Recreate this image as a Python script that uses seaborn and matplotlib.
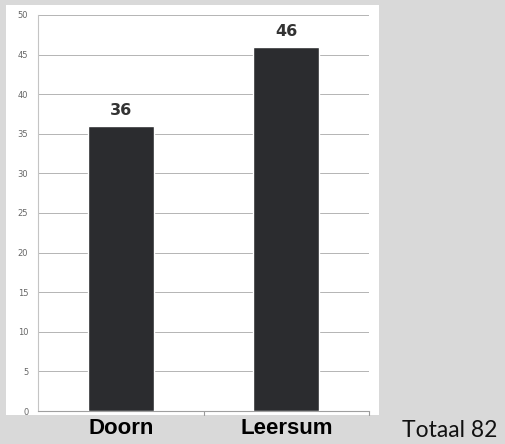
import matplotlib
matplotlib.use("Agg")
import matplotlib.pyplot as plt
import seaborn as sns
import pandas as pd
from matplotlib.patches import Rectangle

categories = ["Doorn", "Leersum"]
values = [36, 46]
total_label = "Totaal 82"
yticks = [0, 5, 10, 15, 20, 25, 30, 35, 40, 45, 50]

df = pd.DataFrame({"plaats": categories, "aantal": values})

sns.set_style("white")
fig = plt.figure(figsize=(5.05, 4.44), dpi=100)
fig.patch.set_facecolor("#d9d9d9")
fig.add_artist(Rectangle((6 / 505, 1 - 415 / 444), (379 - 6) / 505, (415 - 5) / 444,
                         transform=fig.transFigure, facecolor="white", edgecolor="none", zorder=0))

ax = fig.add_axes([38 / 505, 1 - 411 / 444, 331 / 505, (411 - 15) / 444])
ax.set_facecolor("none")
sns.barplot(data=df, x="plaats", y="aantal", color="#2b2c2f", width=0.4,
            saturation=1, ax=ax, zorder=3)

ax.set_ylim(0, 50)
ax.set_xlim(-0.5, 1.5)
ax.set_yticks(yticks)
ax.set_yticklabels([str(t) for t in yticks], fontsize=6, color="#666666")
ax.yaxis.grid(True, color="#b4b4b4", linewidth=0.7, zorder=0)
ax.tick_params(axis="y", length=3, color="#aaaaaa", pad=4)
ax.tick_params(axis="x", length=0)
ax.set_xticks([])
for x in [0.5, 1.5]:
    ax.plot([x, x], [0, -0.5], color="#999999", linewidth=0.8, clip_on=False)
for s in ["top", "right"]:
    ax.spines[s].set_visible(False)
ax.spines["left"].set_color("#c4c4c4")
ax.spines["bottom"].set_color("#a0a0a0")
ax.spines["bottom"].set_linewidth(0.8)
ax.set_xlabel("")
ax.set_ylabel("")

for i, v in enumerate(values):
    ax.text(i, v + 1.0, str(v), ha="center", va="bottom", fontsize=11.5,
            fontweight="bold", color="#333333", family="DejaVu Sans")
    ax.text(i, -0.9, categories[i], ha="center", va="top", fontsize=16,
            fontweight="bold", color="#000000", family=["Liberation Sans Narrow", "Liberation Sans"],
            transform=ax.transData, clip_on=False)

fig.text(450 / 505, 1 - 430 / 444, total_label, ha="center", va="center", fontsize=16.5,
         color="#111111", family=["Lato", "DejaVu Sans"])

fig.savefig("out.png", dpi=100, facecolor=fig.get_facecolor())
